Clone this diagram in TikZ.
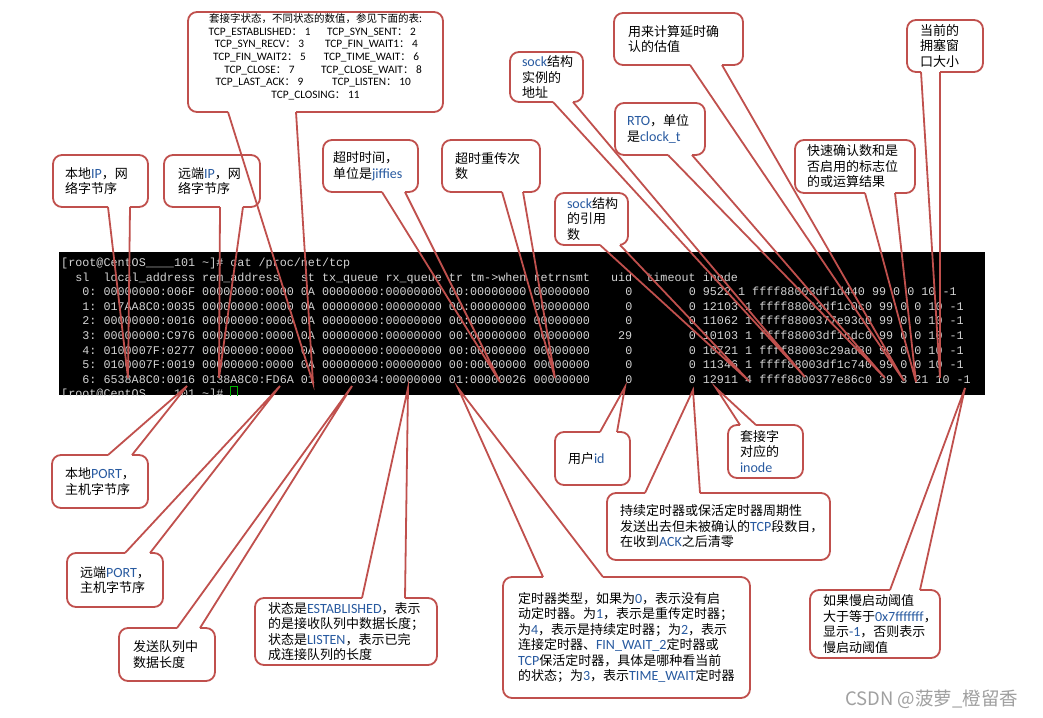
\documentclass[tikz,border=0pt]{standalone}
\usepackage{fontspec}
\usepackage{array}
\setmainfont{Noto Sans CJK SC}
\newfontfamily\termfont{Liberation Mono}
\newfontfamily\latfont[Scale=1.08]{Carlito}
\definecolor{callred}{RGB}{192,80,77}
\definecolor{latblue}{RGB}{40,90,160}
\definecolor{termgray}{RGB}{212,212,212}
\definecolor{wmgray}{RGB}{160,160,160}
\newcommand\cnfont{\fontsize{13}{15.5}\selectfont}
\newcommand\statefont{\fontsize{10.5}{12.7}\selectfont}
\newcommand\en[1]{{\latfont\color{latblue}#1}}
\newcommand\stt[2]{{\latfont TCP\_#1}：{\latfont\ #2}}
%tail of a callout: box, side, base from, base to, tip
\newcommand\calltail[5]{%
  \draw[eraser] ([xshift=#3]#1.#2 west) -- ([xshift=#4]#1.#2 west);
  \draw[tailline] ([xshift=#3]#1.#2 west) -- (#5) -- ([xshift=#4]#1.#2 west);}

\begin{document}
\begin{tikzpicture}[x=1pt,y=-1pt,
    callbox/.style={draw=callred, line width=1.8pt, rounded corners=9pt, outer sep=0pt,
        inner sep=0pt, align=left, font=\cnfont},
    tailline/.style={draw=callred, line width=1.8pt},
    eraser/.style={draw=white, line width=3pt},
    termline/.style={anchor=base west, inner sep=0pt, text=termgray,
        font={\termfont\fontsize{11.75}{14}\selectfont}}
    ]
    \useasboundingbox (0,0) rectangle (1043,717);
    \fill[white] (0,0) rectangle (1043,717);

    %Insert the terminal output here
    \fill[black] (59,252) rectangle (985,395);
    \begin{scope}
        \clip (59,252) rectangle (985,395);
        \node[termline] (cmd) at (61,266.5) {[root@CentOS\_\_\_\_101~\textasciitilde]\#~cat~/proc/net/tcp};
        \node[termline] (hdr) at (61,281.1) {~~sl~~local\_address~rem\_address~~~st~tx\_queue~rx\_queue~tr~tm->when~retrnsmt~~~uid~~timeout~inode};
        \foreach \i/\row in {
            0/{~~~0:~00000000:006F~00000000:0000~0A~00000000:00000000~00:00000000~00000000~~~~~0~~~~~~~~0~9522~1~ffff88003df1d440~99~0~0~10~-1},
            1/{~~~1:~017AA8C0:0035~00000000:0000~0A~00000000:00000000~00:00000000~00000000~~~~~0~~~~~~~~0~12103~1~ffff88003df1c0c0~99~0~0~10~-1},
            2/{~~~2:~00000000:0016~00000000:0000~0A~00000000:00000000~00:00000000~00000000~~~~~0~~~~~~~~0~11062~1~ffff8800377e93c0~99~0~0~10~-1},
            3/{~~~3:~00000000:C976~00000000:0000~0A~00000000:00000000~00:00000000~00000000~~~~29~~~~~~~~0~10103~1~ffff88003df1cdc0~99~0~0~10~-1},
            4/{~~~4:~0100007F:0277~00000000:0000~0A~00000000:00000000~00:00000000~00000000~~~~~0~~~~~~~~0~10721~1~ffff88003c29ad80~99~0~0~10~-1},
            5/{~~~5:~0100007F:0019~00000000:0000~0A~00000000:00000000~00:00000000~00000000~~~~~0~~~~~~~~0~11346~1~ffff88003df1c740~99~0~0~10~-1},
            6/{~~~6:~6538A8C0:0016~0138A8C0:FD6A~01~00000034:00000000~01:00000026~00000000~~~~~0~~~~~~~~0~12911~4~ffff8800377e86c0~39~3~21~10~-1}}
            \node[termline] (r\i) at (61,295.7+14.6*\i) {\row};
        \node[termline] (prompt) at (61,397.9) {[root@CentOS\_\_\_\_101~\textasciitilde]\#~};
        \draw[green!70!black, line width=0.8pt] (230.5,386) rectangle (237.5,398);
    \end{scope}

    %Tips of the callouts
    \coordinate (tp-st) at (313,383);
    \coordinate (tp-lip) at (128,378);
    \coordinate (tp-rip) at (219,378);
    \coordinate (tp-tmo) at (500,382);
    \coordinate (tp-rtx) at (555,378);
    \coordinate (tp-sadr) at (805,377);
    \coordinate (tp-ato) at (904,381);
    \coordinate (tp-rto) at (885,378);
    \coordinate (tp-qack) at (916,382);
    \coordinate (tp-cwnd) at (940,378);
    \coordinate (tp-sref) at (749,381);
    \coordinate (tp-lport) at (187,386);
    \coordinate (tp-rport) at (280,386);
    \coordinate (tp-txq) at (352,386);
    \coordinate (tp-rxq) at (408,388);
    \coordinate (tp-tmr) at (458,388);
    \coordinate (tp-uid) at (625,387);
    \coordinate (tp-inode) at (716,388);
    \coordinate (tp-probe) at (693,390);
    \coordinate (tp-ssth) at (965,388);

    %Callouts above the terminal
    \node[callbox, minimum width=255, minimum height=100, align=center, font=\statefont] (st) at (315.5,62) {%
        \begin{tabular}{@{}>{\centering\arraybackslash}p{112pt}@{}>{\centering\arraybackslash}p{112pt}@{}}
            \multicolumn{2}{@{}c@{}}{套接字状态，不同状态的数值，参见下面的表:}\\
            \stt{ESTABLISHED}{1} & \stt{SYN\_SENT}{2}\\
            \stt{SYN\_RECV}{3} & \stt{FIN\_WAIT1}{4}\\
            \stt{FIN\_WAIT2}{5} & \stt{TIME\_WAIT}{6}\\
            \stt{CLOSE}{7} & \stt{CLOSE\_WAIT}{8}\\
            \stt{LAST\_ACK}{9} & \stt{LISTEN}{10}\\
            \multicolumn{2}{@{}c@{}}{\stt{CLOSING}{11}}\\[8pt]
        \end{tabular}};
    \node[callbox, minimum width=95, minimum height=52, text width=71] (lip) at (100.5,181) {本地\en{IP}，网\\络字节序};
    \node[callbox, minimum width=96, minimum height=52, text width=68] (rip) at (212,181) {远端\en{IP}，网\\络字节序};
    \node[callbox, minimum width=95, minimum height=52, text width=75] (tmo) at (370.5,166) {超时时间，\\单位是\en{jiffies}};
    \node[callbox, minimum width=98, minimum height=52, text width=72] (rtx) at (491,166) {超时重传次\\数};
    \node[callbox, minimum width=73, minimum height=50, text width=49] (sadr) at (546.5,77) {\en{sock}结构\\实例的\\地址};
    \node[callbox, minimum width=129, minimum height=52, text width=101] (ato) at (678.5,39) {用来计算延时确\\认的估值};
    \node[callbox, minimum width=90, minimum height=52, text width=66] (rto) at (660,129) {\en{RTO}，单位\\是\en{clock\_t}};
    \node[callbox, minimum width=120, minimum height=53, text width=96] (qack) at (855,166.5) {快速确认数和是\\否启用的标志位\\的或运算结果};
    \node[callbox, minimum width=76, minimum height=52, text width=50] (cwnd) at (945,46) {当前的\\拥塞窗\\口大小};
    \node[callbox, minimum width=73, minimum height=52, text width=49] (sref) at (591.5,219) {\en{sock}结构\\的引用\\数};

    %Callouts below the terminal
    \node[callbox, minimum width=96, minimum height=53, text width=70] (lport) at (100,481.5) {本地\en{PORT}，\\主机字节序};
    \node[callbox, minimum width=96, minimum height=54, text width=70] (rport) at (115,580) {远端\en{PORT}，\\主机字节序};
    \node[callbox, minimum width=96, minimum height=53, text width=68] (txq) at (167,654.5) {发送队列中\\数据长度};
    \node[callbox, minimum width=182, minimum height=67, text width=156] (rxq) at (346,631.5) {状态是\en{ESTABLISHED}，表示\\的是接收队列中数据长度；\\状态是\en{LISTEN}，表示已完\\成连接队列的长度};
    \node[callbox, minimum width=247, minimum height=121, text width=217] (tmr) at (626.5,637.5) {定时器类型，如果为\en{0}，表示没有启\\动定时器。为\en{1}，表示是重传定时器；\\为\en{4}，表示是持续定时器；为\en{2}，表示\\连接定时器、\en{FIN\_WAIT\_2}定时器或\\\en{TCP}保活定时器，具体是哪种看当前\\的状态；为\en{3}，表示\en{TIME\_WAIT}定时器};
    \node[callbox, minimum width=75, minimum height=53, text width=49] (uid) at (592.5,458.5) {用户\en{id}};
    \node[callbox, minimum width=75, minimum height=53, text width=51] (inode) at (765.5,451.5) {套接字\\对应的\\\en{inode}};
    \node[callbox, minimum width=223, minimum height=67, text width=197] (probe) at (718.5,526.5) {持续定时器或保活定时器周期性\\发送出去但未被确认的\en{TCP}段数目，\\在收到\en{ACK}之后清零};
    \node[callbox, minimum width=130, minimum height=68, text width=104] (ssth) at (875,624) {如果慢启动阈值\\大于等于\en{0x7fffffff}，\\显示\en{-1}，否则表示\\慢启动阈值};

    %Tails
    \calltail{st}{south}{40}{108}{tp-st}
    \calltail{lip}{south}{55}{77}{tp-lip}
    \calltail{rip}{south}{56}{79}{tp-rip}
    \calltail{tmo}{south}{59}{82}{tp-tmo}
    \calltail{rtx}{south}{60}{81}{tp-rtx}
    \calltail{sadr}{south}{43}{63}{tp-sadr}
    \calltail{ato}{south}{76}{108}{tp-ato}
    \calltail{rto}{south}{53}{77}{tp-rto}
    \calltail{qack}{south}{70}{100}{tp-qack}
    \calltail{cwnd}{south}{14}{33}{tp-cwnd}
    \calltail{sref}{south}{45}{65}{tp-sref}
    \calltail{lport}{north}{56}{80}{tp-lport}
    \calltail{rport}{north}{58}{83}{tp-rport}
    \calltail{txq}{north}{58}{81}{tp-txq}
    \calltail{rxq}{north}{107}{150}{tp-rxq}
    \calltail{tmr}{north}{40}{100}{tp-tmr}
    \calltail{uid}{north}{45}{62}{tp-uid}
    \calltail{inode}{north}{12}{28}{tp-inode}
    \calltail{probe}{north}{38}{93}{tp-probe}
    \calltail{ssth}{north}{80}{110}{tp-ssth}

    \node[anchor=base west, inner sep=0pt, text=wmgray, font=\fontsize{18.5}{20}\selectfont] (wm) at (845,705) {CSDN @菠萝\_橙留香};
\end{tikzpicture}
\end{document}
